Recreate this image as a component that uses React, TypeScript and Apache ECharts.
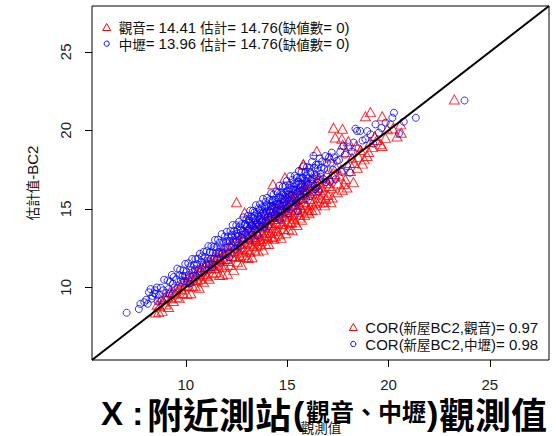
import React, { useEffect, useRef } from "react";
import * as echarts from "echarts";

const axisMin = 5.37;
const axisMax = 27.92;
const tickValues = [10, 15, 20, 25];

const xAxisTitle = "觀測值";
const yAxisTitle = "估計值-BC2";
const legendTop = ["觀音= 14.41 估計= 14.76(缺値數= 0)", "中壢= 13.96 估計= 14.76(缺値數= 0)"];
const legendBottom = ["COR(新屋BC2,觀音)= 0.97", "COR(新屋BC2,中壢)= 0.98"];

// 觀音 (red triangles): [observed, estimated]
const guanyinPoints: [number, number][] = [
  [8.50,8.40],[8.66,8.42],[8.58,8.89],[8.71,8.79],[8.77,9.22],[8.83,8.50],[8.90,9.09],[8.97,9.35],[9.02,8.90],[9.09,9.36],
  [9.15,8.74],[9.20,9.69],[9.27,9.30],[9.32,9.66],[9.39,9.13],[9.44,9.59],[9.51,9.95],[9.57,9.39],[9.63,9.87],[9.68,9.31],
  [9.74,10.13],[9.80,9.86],[9.86,9.64],[9.91,10.38],[9.97,10.09],
  [10.02,10.33],[10.06,9.58],[10.11,10.66],[10.15,10.06],[10.20,10.42],[10.25,9.62],[10.29,10.70],[10.34,10.07],[10.38,10.46],[10.43,11.01],
  [10.47,10.06],[10.52,10.69],[10.57,10.45],[10.61,11.07],[10.66,9.97],[10.70,10.97],[10.75,10.54],[10.79,11.30],[10.84,10.86],[10.88,10.36],
  [10.93,11.29],[10.97,10.82],[11.02,11.61],[11.06,10.71],[11.11,11.24],[11.15,10.54],[11.20,11.64],[11.24,11.19],[11.29,11.54],[11.33,10.89],
  [11.38,11.93],[11.42,11.23],[11.47,11.56],
  [11.51,10.96],[11.55,11.93],[11.59,11.47],[11.63,12.24],[11.67,10.79],[11.70,11.85],[11.74,11.40],[11.78,12.25],[11.82,10.80],[11.86,11.81],
  [11.89,12.18],[11.93,11.31],[11.97,12.63],[12.01,11.80],[12.05,10.87],[12.09,12.21],[12.13,11.68],[12.17,12.69],[12.20,11.42],[12.24,12.27],
  [12.28,11.99],[12.32,12.73],[12.36,11.11],[12.40,12.31],[12.44,13.12],[12.48,11.93],[12.51,12.73],[12.55,11.63],[12.59,12.41],[12.63,13.12],
  [12.67,12.00],[12.71,12.78],[12.75,11.44],[12.78,12.42],[12.82,13.15],[12.86,12.05],[12.90,13.48],[12.94,12.80],[12.98,11.93],
  [13.01,13.42],[13.04,12.41],[13.06,13.15],[13.09,11.87],[13.11,13.83],[13.14,12.86],[13.17,12.26],[13.19,13.43],[13.22,12.75],[13.24,14.09],
  [13.27,11.92],[13.29,13.21],[13.32,13.85],[13.35,12.61],[13.37,13.18],[13.40,13.76],[13.42,12.34],[13.45,14.11],[13.47,13.05],[13.50,13.52],
  [13.53,12.67],[13.55,14.02],[13.58,12.29],[13.60,13.37],[13.63,14.51],[13.65,13.08],[13.68,13.86],[13.71,12.72],[13.73,12.96],[13.76,14.34],
  [13.78,13.45],[13.81,12.40],[13.83,14.12],[13.86,13.25],[13.89,14.68],[13.91,13.80],[13.94,12.78],[13.96,14.38],[13.99,13.51],[14.01,14.08],
  [14.04,13.12],[14.07,14.70],[14.09,12.76],[14.12,13.86],[14.14,14.52],[14.17,13.46],[14.20,15.06],[14.22,14.08],[14.25,13.21],[14.27,14.48],
  [14.30,13.77],[14.33,15.02],[14.35,13.10],[14.38,14.36],[14.40,14.87],[14.43,13.61],[14.46,14.59],[14.48,14.10],
  [14.51,15.08],[14.54,13.61],[14.56,14.35],[14.59,14.90],[14.62,13.38],[14.64,15.45],[14.67,14.19],[14.70,13.15],[14.72,14.84],[14.75,14.04],
  [14.78,15.40],[14.80,14.71],[14.83,13.71],[14.86,15.24],[14.88,14.49],[14.91,15.77],[14.93,13.45],[14.96,14.80],[14.99,15.44],[15.01,14.19],
  [15.04,15.06],[15.07,13.70],[15.09,15.81],[15.12,14.57],[15.14,15.41],[15.17,14.12],[15.20,14.92],[15.22,15.77],[15.25,13.64],[15.28,14.65],
  [15.30,15.49],[15.33,14.36],[15.35,16.18],[15.38,15.26],[15.41,14.12],[15.43,15.84],[15.46,15.00],[15.49,13.97],[15.51,15.59],[15.54,14.78],
  [15.57,16.21],[15.59,15.26],[15.62,14.44],[15.64,15.88],[15.67,15.08],[15.70,16.58],[15.72,14.31],[15.75,15.70],[15.78,14.90],[15.80,17.84],
  [15.83,16.19],[15.86,14.60],[15.88,15.46],[15.91,16.50],[15.94,15.23],[15.97,16.12],
  [16.02,16.61],[16.05,15.02],[16.09,14.72],[16.12,15.62],[16.16,15.91],[16.22,14.93],[16.24,15.32],[16.28,16.45],[16.31,16.98],[16.35,16.52],
  [16.38,16.15],[16.40,14.95],[16.46,18.68],[16.45,15.48],[16.50,15.92],[16.54,16.31],[16.58,16.95],[16.62,15.38],[16.66,15.71],[16.72,16.38],
  [16.79,16.04],[16.85,15.22],[16.91,15.62],[16.92,16.62],[16.98,17.22],[17.01,15.88],[17.08,16.45],[17.12,16.93],[17.16,15.42],[17.21,16.31],
  [17.28,17.05],[17.36,17.22],[17.42,17.62],[17.48,16.05],
  [13.12,13.05],[13.48,12.95],[13.72,13.62],[13.98,13.32],[14.18,13.95],[14.42,13.25],[14.58,14.55],[14.82,14.02],[15.02,14.75],[15.22,14.15],
  [15.42,15.32],[15.62,14.62],[15.82,15.42],[16.02,14.82],[16.22,16.02],[16.42,15.22],[16.62,16.18],[16.82,15.45],[17.02,16.62],[17.22,15.72],
  [12.62,12.22],[12.82,12.55],[11.92,12.02],[11.62,11.72],[11.32,11.38],[14.12,14.45],[14.72,15.05],[15.32,15.62],[15.92,16.25],[16.52,16.72],
  [17.52,16.62],[17.58,17.12],[17.66,17.51],[17.72,16.22],[17.80,16.57],[17.87,16.88],[17.92,18.62],[17.95,16.36],[18.02,19.31],[18.08,17.92],
  [18.12,17.41],[18.20,18.25],[18.27,16.70],[18.31,17.92],[18.41,19.02],[18.46,17.62],[18.52,18.31],[18.62,18.75],[18.71,17.88],[18.80,18.15],
  [18.95,18.37],[19.02,18.62],[19.10,19.25],[19.21,18.93],[19.32,19.62],[19.42,19.38],[19.61,19.11],[19.69,19.00],[19.85,19.52],[19.94,20.06],
  [20.21,20.12],[20.42,19.61],[20.60,20.38],[20.63,19.85],
  [19.69,20.90],[19.11,21.16],[18.86,20.90],[17.29,20.17],[17.73,20.10],[17.70,19.47],[17.37,19.54],[17.74,19.10],[17.12,18.26],[15.80,17.84],
  [14.30,16.57],[14.89,17.00],[12.50,15.42],[12.90,14.77],[23.25,21.97],
];

// 中壢 (blue circles): [observed, estimated]
const zhongliPoints: [number, number][] = [
  [7.08,8.38],[7.68,8.62],[7.76,8.94],[7.95,9.05],[8.05,9.21],[8.12,8.95],[8.18,9.68],[8.26,9.89],[8.31,9.28],[8.35,9.45],
  [8.44,9.62],[8.48,9.81],
  [8.52,9.57],[8.61,9.09],[8.57,9.99],[8.70,9.53],[8.76,9.97],[8.81,9.17],[8.93,10.48],[8.89,9.81],[9.03,9.64],[9.10,10.43],
  [9.14,9.88],[9.22,10.34],[9.19,9.60],[9.31,10.79],[9.36,10.23],[9.44,9.99],[9.40,10.66],[9.53,10.51],[9.58,11.19],[9.62,9.95],
  [9.69,10.76],[9.75,10.44],[9.72,11.11],[9.84,10.72],[9.91,10.38],[9.88,11.06],[9.97,11.49],[9.95,10.72],
  [10.03,10.98],[10.08,10.30],[10.12,11.53],[10.15,10.78],[10.22,11.34],[10.19,10.24],[10.27,11.08],[10.31,11.80],[10.36,10.74],[10.40,11.43],
  [10.44,11.15],[10.47,11.80],[10.52,10.67],[10.56,11.48],[10.60,11.82],[10.63,11.15],[10.69,12.14],[10.73,11.02],[10.77,11.62],[10.80,11.97],
  [10.84,11.45],[10.88,12.26],[10.91,11.00],[10.95,11.94],[11.00,11.46],[11.03,12.30],[11.07,11.81],[11.11,12.62],[11.14,11.47],[11.19,12.25],
  [11.22,11.80],[11.26,12.62],[11.29,11.27],[11.33,12.22],[11.37,12.56],[11.41,11.83],[11.44,13.02],[11.48,12.16],
  [11.52,12.54],[11.55,11.80],[11.59,13.03],[11.62,12.24],[11.66,12.84],[11.69,11.57],[11.73,12.54],[11.77,13.39],[11.80,12.18],[11.84,12.89],
  [11.87,12.42],[11.91,13.22],[11.95,12.07],[11.98,12.91],[12.02,13.54],[12.05,12.52],[12.09,13.23],[12.13,11.92],[12.17,12.94],[12.20,13.58],
  [12.24,12.55],[12.27,13.26],[12.31,13.97],[12.34,12.92],[12.38,13.59],[12.42,12.45],[12.45,13.31],[12.49,13.96],[12.52,12.94],[12.56,13.65],
  [12.60,13.27],[12.63,14.18],[12.67,12.59],[12.70,13.65],[12.74,14.02],[12.78,13.14],[12.81,13.60],[12.85,14.46],[12.88,13.06],[12.92,14.04],
  [12.95,13.48],[12.99,14.34],
  [13.01,13.89],[13.03,13.24],[13.06,14.55],[13.08,13.70],[13.11,14.23],[13.13,12.98],[13.16,14.13],[13.18,14.89],[13.21,13.62],[13.23,14.51],
  [13.26,14.00],[13.28,13.36],[13.31,14.87],[13.33,13.88],[13.36,14.40],[13.38,14.76],[13.41,13.68],[13.43,14.26],[13.46,15.23],[13.48,13.97],
  [13.51,14.70],[13.53,13.31],[13.56,14.48],[13.58,15.03],[13.61,13.96],[13.63,14.31],[13.66,15.29],[13.68,14.75],[13.71,13.85],[13.73,14.54],
  [13.76,15.10],[13.78,14.30],[13.81,15.63],[13.83,14.79],[13.86,13.81],[13.88,15.11],[13.91,14.54],[13.93,15.44],[13.96,14.25],[13.98,14.85],
  [14.01,15.70],[14.03,15.14],[14.06,14.50],[14.08,13.90],[14.11,14.87],[14.13,15.54],[14.16,14.74],[14.18,15.20],[14.21,15.99],[14.23,14.42],
  [14.26,15.17],[14.28,15.57],[14.31,14.78],[14.33,15.92],[14.36,15.08],[14.38,14.40],[14.41,15.57],[14.43,15.27],[14.46,16.12],[14.48,14.86],
  [14.51,15.46],[14.53,16.01],[14.56,14.80],[14.58,15.27],[14.61,16.47],[14.63,14.35],[14.66,15.73],[14.68,15.19],[14.71,16.04],[14.73,14.85],
  [14.76,15.62],[14.78,16.40],[14.81,15.20],[14.83,16.04],[14.86,15.59],[14.88,14.77],[14.91,16.45],[14.93,15.90],[14.96,15.27],[14.98,16.77],
  [15.01,15.63],[15.03,16.17],[15.06,14.71],[15.08,15.91],[15.11,16.52],[15.13,15.58],[15.16,17.08],[15.18,15.36],[15.21,16.24],[15.23,15.90],
  [15.26,16.84],[15.28,15.07],[15.31,16.22],[15.33,16.59],[15.36,15.72],[15.38,17.11],[15.41,16.19],[15.43,15.48],[15.46,16.63],[15.48,16.97],
  [15.51,16.05],[15.53,14.85],[15.56,16.55],[15.58,17.42],[15.61,15.88],[15.63,16.95],[15.66,16.38],[15.68,15.54],[15.71,17.32],[15.73,16.60],
  [15.76,16.19],[15.78,16.99],[15.81,17.70],[15.83,15.92],[15.86,16.82],[15.88,16.46],[15.91,17.35],[15.93,15.64],[15.96,16.77],[15.98,17.66],
  [16.02,16.95],[16.05,16.26],[16.09,17.61],[16.12,15.81],[16.16,17.27],[16.19,16.77],[16.23,18.00],[16.26,16.60],[16.30,18.37],[16.34,17.16],
  [16.38,16.26],[16.42,17.80],[16.46,17.08],[16.51,17.57],[16.55,16.10],[16.60,18.21],[16.64,17.05],[16.69,17.64],[16.73,18.02],[16.78,16.90],
  [16.83,17.54],[16.88,18.36],[16.92,16.70],[16.96,17.95],[17.01,17.46],[17.06,18.27],[17.11,16.73],[17.16,17.94],[17.20,18.58],[17.26,17.49],
  [17.32,18.28],[17.39,16.88],[17.45,18.06],
  [12.53,13.42],[12.66,13.88],[12.79,13.35],[12.91,13.95],[13.04,13.58],[13.14,14.35],[13.25,13.92],[13.39,14.55],[13.52,14.12],[13.64,14.95],
  [13.74,14.18],[13.87,14.62],[13.97,15.21],[14.07,14.32],[14.19,14.95],[14.29,15.42],[14.39,14.62],[14.49,15.32],[14.57,15.72],[14.67,14.95],
  [14.77,15.88],[14.87,15.42],[14.97,16.12],[15.04,15.12],[15.14,16.32],[15.24,15.65],[15.34,16.42],[15.44,15.95],[15.54,16.72],[15.64,16.12],
  [15.74,16.95],[15.84,16.32],[15.94,17.12],[16.04,16.58],[16.14,17.35],[16.24,16.88],[16.34,17.62],[16.44,16.92],[16.54,17.82],[16.64,17.25],
  [13.45,13.85],[13.95,14.05],[14.45,14.52],[14.95,15.05],[15.45,15.38],[15.95,16.02],[16.45,16.35],[12.05,12.95],[12.25,13.35],[12.45,12.85],
  [17.56,18.11],[17.62,18.62],[17.70,17.35],[17.78,19.00],[17.85,18.45],[17.95,17.73],[18.02,18.92],[18.10,17.30],[18.18,18.65],[18.28,19.22],
  [18.37,20.10],[18.45,19.96],[18.52,18.85],[18.60,19.96],[18.72,19.35],[18.86,19.43],[18.95,19.95],[19.11,19.75],[19.25,19.15],[19.36,20.38],
  [19.52,19.85],[19.65,20.15],[19.86,20.49],[20.10,20.38],[20.19,20.80],[20.27,21.12],[20.52,19.80],[20.75,20.55],[21.35,20.80],[23.75,21.90],
];

const LATIN = '"Liberation Sans", Arial, sans-serif';
const CJK = '"Noto Sans CJK TC", "Noto Sans CJK JP", sans-serif';

function richify(s: string): string {
  return s.replace(/([\u3000-\u9fff\uff00-\uffef]+)|([^\u3000-\u9fff\uff00-\uffef]+)/g, (_m, c, l) =>
    c ? `{c|${c}}` : `{l|${l}}`
  );
}

const richSmall = {
  l: { fontFamily: LATIN, fontSize: 15, fill: "#111" },
  c: { fontFamily: CJK, fontSize: 13.5, fill: "#111" },
};

export default function App() {
  const ref = useRef<HTMLDivElement>(null);

  useEffect(() => {
    document.body.style.margin = "0";
    if (!ref.current) return;
    const chart = echarts.init(ref.current, undefined, { renderer: "svg" });

    const tri = (cx: number, cy: number, w: number, h: number) => [
      [cx - w / 2, cy + h / 2],
      [cx + w / 2, cy + h / 2],
      [cx, cy - h / 2],
    ];

    const legendItems: any[] = [];
    const addLegend = (x: number, y1: number, y2: number, lines: string[]) => {
      legendItems.push({
        type: "polygon",
        shape: { points: tri(x, y1, 8, 7) },
        style: { fill: "none", stroke: "#ff0000", lineWidth: 1 },
        z: 20,
      });
      legendItems.push({
        type: "circle",
        shape: { cx: x, cy: y2, r: 2.6 },
        style: { fill: "none", stroke: "#0000ff", lineWidth: 1 },
        z: 20,
      });
      [y1, y2].forEach((y, i) => {
        legendItems.push({
          type: "text",
          x: x + 12,
          y,
          style: { text: richify(lines[i]), rich: richSmall, align: "left", verticalAlign: "middle" },
          z: 20,
        });
      });
    };
    addLegend(106.7, 27, 43.7, legendTop);
    addLegend(353.3, 327, 344, legendBottom);

    const bigFont = { fontFamily: CJK, fontWeight: "bold" as const, fill: "#000" };

    chart.setOption({
      animation: false,
      grid: {
        left: 92,
        right: 7,
        top: 6,
        bottom: 76,
        show: true,
        borderColor: "#000",
        borderWidth: 1,
        backgroundColor: "transparent",
      },
      xAxis: {
        type: "value",
        min: axisMin,
        max: axisMax,
        axisLine: { show: false, onZero: false },
        splitLine: { show: false },
        axisTick: { show: true, length: 7, customValues: tickValues, lineStyle: { color: "#000" } },
        axisLabel: {
          customValues: tickValues,
          margin: 17,
          fontFamily: LATIN,
          fontSize: 15,
          color: "#222",
        },
      },
      yAxis: {
        type: "value",
        min: axisMin,
        max: axisMax,
        axisLine: { show: false, onZero: false },
        splitLine: { show: false },
        axisTick: { show: true, length: 7, customValues: tickValues, lineStyle: { color: "#000" } },
        axisLabel: {
          customValues: tickValues,
          rotate: 90,
          margin: 19,
          fontFamily: LATIN,
          fontSize: 15,
          color: "#222",
        },
      },
      series: [
        {
          type: "scatter",
          name: "觀音",
          data: guanyinPoints,
          symbol: "triangle",
          symbolSize: [10, 9],
          itemStyle: { color: "rgba(0,0,0,0)", borderColor: "#ff0000", borderWidth: 1 },
          emphasis: { disabled: true },
        },
        {
          type: "scatter",
          name: "中壢",
          data: zhongliPoints,
          symbol: "circle",
          symbolSize: 7,
          itemStyle: { color: "rgba(0,0,0,0)", borderColor: "#0000ff", borderWidth: 1 },
          emphasis: { disabled: true },
        },
        {
          type: "line",
          data: [
            [axisMin, axisMin],
            [axisMax, axisMax],
          ],
          showSymbol: false,
          symbol: "none",
          lineStyle: { color: "#000", width: 2 },
          z: 5,
        },
      ],
      graphic: [
        {
          type: "text",
          x: 32,
          y: 183,
          rotation: Math.PI / 2,
          style: { text: richify(yAxisTitle), rich: richSmall, align: "center", verticalAlign: "middle" },
        },
        {
          type: "text",
          x: 321,
          y: 427,
          style: { text: xAxisTitle, fontFamily: CJK, fontSize: 13.5, fill: "#111", align: "center", verticalAlign: "middle" },
        },
        ...legendItems,
        {
          type: "text",
          x: 101,
          y: 413,
          z: 30,
          style: { text: "X :", fontFamily: LATIN, fontWeight: "bold", fontSize: 33, lineHeight: 34, fill: "#000", align: "left", verticalAlign: "middle" },
        },
        {
          type: "text",
          x: 147,
          y: 413,
          z: 30,
          style: { ...bigFont, text: "附近測站", fontSize: 36, lineHeight: 36, align: "left", verticalAlign: "middle" },
        },
        {
          type: "text",
          x: 293,
          y: 413,
          z: 30,
          style: { text: "(", fontFamily: LATIN, fontWeight: "bold", fontSize: 34, lineHeight: 34, fill: "#000", align: "left", verticalAlign: "middle" },
        },
        {
          type: "text",
          x: 306,
          y: 410,
          z: 30,
          style: { ...bigFont, text: "觀音、中壢", fontSize: 24, lineHeight: 24, align: "left", verticalAlign: "middle" },
        },
        {
          type: "text",
          x: 427,
          y: 413,
          z: 30,
          style: { text: ")", fontFamily: LATIN, fontWeight: "bold", fontSize: 34, lineHeight: 34, fill: "#000", align: "left", verticalAlign: "middle" },
        },
        {
          type: "text",
          x: 439,
          y: 413,
          z: 30,
          style: { ...bigFont, text: "觀測值", fontSize: 36, lineHeight: 36, align: "left", verticalAlign: "middle" },
        },
      ],
    });

    return () => chart.dispose();
  }, []);

  return <div ref={ref} style={{ width: 556, height: 436 }} />;
}
